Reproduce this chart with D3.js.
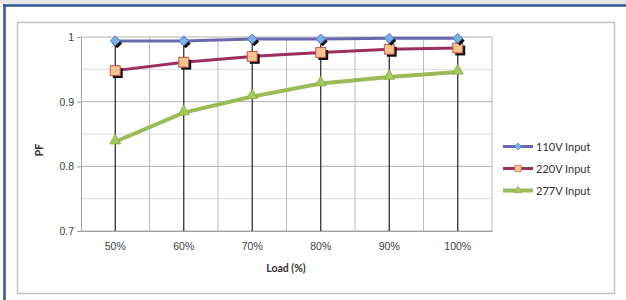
<!DOCTYPE html>
<html><head><meta charset="utf-8">
<script src="https://cdn.jsdelivr.net/npm/d3@7"></script>
<style>body{margin:0;background:#fff}svg{display:block;font-family:Lato,"Open Sans",sans-serif}</style>
</head><body><svg id="c" width="626" height="300"></svg>
<script>
const categories = ["50%","60%","70%","80%","90%","100%"];
const v110 = [0.994,0.994,0.997,0.997,0.998,0.998];
const v220 = [0.948,0.961,0.970,0.976,0.981,0.983];
const v277 = [0.838,0.883,0.908,0.928,0.938,0.946];
const yTicks = [0.7,0.8,0.9,1];
const yMinor = [0.75,0.85,0.95];
const seriesNames = ["110V Input","220V Input","277V Input"];

const svg = d3.select("#c");
// outer frame
svg.append("rect").attr("x",0).attr("y",0).attr("width",626).attr("height",4).attr("fill","#e6e6e6");
svg.append("line").attr("x1",3).attr("x2",626).attr("y1",5.5).attr("y2",5.5).attr("stroke","#2e5597").attr("stroke-width",2.5);
svg.append("line").attr("x1",4.5).attr("x2",4.5).attr("y1",4.5).attr("y2",300).attr("stroke","#2e5597").attr("stroke-width",2.5);
// chart area border
svg.append("rect").attr("x",17.5).attr("y",22.5).attr("width",597).attr("height",271).attr("fill","none").attr("stroke","#c4c4c4").attr("stroke-width",1.5);

const x = d3.scaleBand().domain(categories).range([81,492]);
const y = d3.scaleLinear().domain([0.7,1]).range([231,37]);

const g = svg.append("g");
g.selectAll(".mn").data(yMinor).join("line").attr("x1",81).attr("x2",492)
  .attr("y1",d=>y(d)).attr("y2",d=>y(d)).attr("stroke","#dcdcdc").attr("stroke-width",1);
g.selectAll(".mj").data(yTicks).join("line").attr("x1",81).attr("x2",492)
  .attr("y1",d=>y(d)).attr("y2",d=>y(d)).attr("stroke","#b0b0b0").attr("stroke-width",1);
const bounds = categories.slice(1).map(c=>x(c)).concat([x.range()[1]]);
g.selectAll(".vg").data(bounds).join("line").attr("x1",d=>d).attr("x2",d=>d)
  .attr("y1",37).attr("y2",231).attr("stroke","#bdbdbd").attr("stroke-width",1);

const yAxis = d3.axisLeft(y).tickValues(yTicks).tickSize(4).tickFormat(d=>d===1?"1":d3.format(".1f")(d));
const ya = svg.append("g").attr("transform","translate(81,0)").call(yAxis);
ya.select(".domain").attr("stroke","#a0a0a0");
ya.selectAll(".tick line").attr("stroke","#a0a0a0");
ya.selectAll("text").attr("font-size",10.5).attr("fill","#404040").attr("x",-7);

const xAxis = d3.axisBottom(x).tickSize(0).tickPadding(12);
const xa = svg.append("g").attr("transform","translate(0,231)").call(xAxis);
xa.select(".domain").attr("stroke","#a0a0a0");
xa.selectAll("text").attr("font-size",10.5).attr("fill","#404040");

const cx = c => x(c) + x.bandwidth()/2;
svg.selectAll(".drop").data(categories).join("line")
  .attr("x1",cx).attr("x2",cx)
  .attr("y1",(c,i)=>y(d3.max([v110[i],v220[i],v277[i]]))).attr("y2",231)
  .attr("stroke","#333").attr("stroke-width",1.3);

const line = d3.line().x((d,i)=>cx(categories[i])).y(d=>y(d));
const cols = {l110:"#6b67ad", l220:"#9c2f60", l277:"#9bbb59"};
svg.append("path").attr("d",line(v277)).attr("fill","none").attr("stroke",cols.l277).attr("stroke-width",4);
svg.append("path").attr("d",line(v220)).attr("fill","none").attr("stroke",cols.l220).attr("stroke-width",3);
svg.append("path").attr("d",line(v110)).attr("fill","none").attr("stroke",cols.l110).attr("stroke-width",3);

const diamond = d3.symbol().type(d3.symbolDiamond2).size(62);
const square = d3.symbol().type(d3.symbolSquare2).size(125);
const tri = d3.symbol().type(d3.symbolTriangle2).size(85);

svg.selectAll(".t").data(v277).join("path").attr("d",tri)
  .attr("transform",(d,i)=>`translate(${cx(categories[i])},${y(d)-1})`)
  .attr("fill","#a5c95f").attr("stroke","#8fb04c").attr("stroke-width",1);
svg.selectAll(".ss").data(v220).join("path").attr("d",square)
  .attr("transform",(d,i)=>`translate(${cx(categories[i])+2.5},${y(d)+2.5})`).attr("fill","#111");
svg.selectAll(".s").data(v220).join("path").attr("d",square)
  .attr("transform",(d,i)=>`translate(${cx(categories[i])},${y(d)})`)
  .attr("fill","#f9c28f").attr("stroke","#c0504d").attr("stroke-width",1);
svg.selectAll(".ds").data(v110).join("path").attr("d",diamond)
  .attr("transform",(d,i)=>`translate(${cx(categories[i])+2},${y(d)+2.5})`).attr("fill","#111");
svg.selectAll(".d").data(v110).join("path").attr("d",diamond)
  .attr("transform",(d,i)=>`translate(${cx(categories[i])},${y(d)})`)
  .attr("fill","#79b0ea").attr("stroke","#4a7ebb").attr("stroke-width",1);

svg.append("text").attr("transform","translate(43,150) rotate(-90)").attr("text-anchor","middle")
  .attr("font-size",10.5).attr("font-weight","bold").attr("fill","#333").text("PF");
svg.append("text").attr("x",286).attr("y",272).attr("text-anchor","middle")
  .attr("font-size",10.5).attr("font-weight","bold").attr("fill","#333").text("Load (%)");

const ly = [146.5,168.5,190.5];
const lcol = [cols.l110, cols.l220, cols.l277];
const lw = [3,3,4];
const lg = svg.append("g");
seriesNames.forEach((n,i)=>{
  lg.append("line").attr("x1",503).attr("x2",533).attr("y1",ly[i]).attr("y2",ly[i]).attr("stroke",lcol[i]).attr("stroke-width",lw[i]);
  const sym = [diamond,square,tri][i];
  const sc = [0.7,0.65,0.7][i];
  lg.append("path").attr("d",sym).attr("transform",`translate(518,${ly[i]}) scale(${sc})`)
    .attr("fill",["#79b0ea","#f9c28f","#a5c95f"][i]).attr("stroke",["#4a7ebb","#c0504d","#8fb04c"][i]).attr("stroke-width",1);
  lg.append("text").attr("x",536).attr("y",ly[i]+4).attr("font-size",11).attr("fill","#333").text(n);
});
</script></body></html>
